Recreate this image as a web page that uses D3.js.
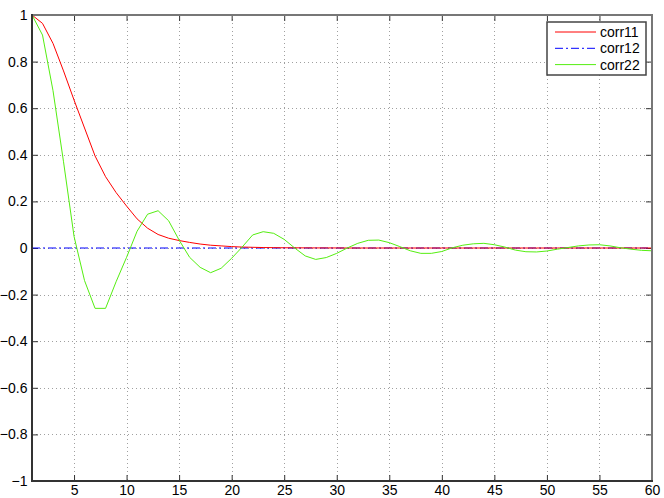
<!DOCTYPE html>
<html>
<head>
<meta charset="utf-8">
<script src="https://cdn.jsdelivr.net/npm/d3@7"></script>
<style>
  html, body { margin: 0; padding: 0; background: #fff; }
  svg { display: block; }
  text { font-family: "Liberation Sans", Arial, Helvetica, sans-serif; font-size: 14px; fill: #000; }
</style>
</head>
<body>
<svg id="chart" width="664" height="498"></svg>
<script>
// ---- data ----
const lags = d3.range(1, 61);
const corr11 = [1, 0.964, 0.878, 0.76, 0.635, 0.515, 0.395, 0.306, 0.238, 0.18,
  0.125, 0.085, 0.058, 0.042, 0.032, 0.024, 0.017, 0.012, 0.009, 0.006,
  0.004, 0.003, 0.002, 0.0015, 0.001, 0.0008, 0.0006, 0.0004, 0.0003, 0.0002,
  0, 0, 0, 0, 0, 0, 0, 0, 0, 0, 0, 0, 0, 0, 0, 0, 0, 0, 0, 0,
  0, 0, 0, 0, 0, 0, 0, 0, 0, 0];
const corr12 = [0, 0, 0, 0, 0, 0, 0, 0, 0, 0, 0, 0, 0, 0, 0, 0, 0, 0, 0, 0,
  0, 0, 0, 0, 0, 0, 0, 0, 0, 0, 0, 0, 0, 0, 0, 0, 0, 0, 0, 0,
  0, 0, 0, 0, 0, 0, 0, 0, 0, 0, 0, 0, 0, 0, 0, 0, 0, 0, 0, 0];
const corr22 = [1, 0.914, 0.675, 0.37, 0.05, -0.14, -0.259, -0.259, -0.145, -0.04,
  0.072, 0.145, 0.16, 0.117, 0.034, -0.04, -0.083, -0.106, -0.087, -0.044,
  0.004, 0.056, 0.07, 0.063, 0.037, 0.0, -0.034, -0.049, -0.041, -0.023,
  0.0, 0.02, 0.033, 0.034, 0.023, 0.006, -0.012, -0.023, -0.023, -0.015,
  0.001, 0.012, 0.018, 0.02, 0.014, 0.004, -0.009, -0.016, -0.017, -0.013,
  -0.005, 0.002, 0.009, 0.013, 0.014, 0.009, 0.001, -0.005, -0.01, -0.012];
const xTicks = [5, 10, 15, 20, 25, 30, 35, 40, 45, 50, 55, 60];
const yTicks = [-1, -0.8, -0.6, -0.4, -0.2, 0, 0.2, 0.4, 0.6, 0.8, 1];
const seriesNames = ["corr11", "corr12", "corr22"];

// ---- layout ----
const L = 32, R = 652, T = 15, B = 481;
const svg = d3.select("#chart");
const x = d3.scaleLinear().domain([1, 60]).range([L, R]);
const y = d3.scaleLinear().domain([-1, 1]).range([B, T]);

const fmtY = v => (v < 0 ? "\u2212" : "") + d3.format("")(Math.abs(v));

// grid
const grid = svg.append("g").attr("stroke", "#a0a0a0").attr("stroke-width", 1)
  .attr("stroke-dasharray", "1,3").attr("fill", "none");
xTicks.filter(v => v < 60).forEach(v => {
  grid.append("line").attr("x1", Math.round(x(v)) + 0.5).attr("x2", Math.round(x(v)) + 0.5)
    .attr("y1", T).attr("y2", B);
});
yTicks.filter(v => v > -1 && v < 1).forEach(v => {
  grid.append("line").attr("y1", Math.round(y(v)) + 0.5).attr("y2", Math.round(y(v)) + 0.5)
    .attr("x1", L).attr("x2", R);
});

// axes with inward ticks
const tickLen = 6;
const axB = svg.append("g").attr("transform", `translate(0,${B})`)
  .call(d3.axisBottom(x).tickValues(xTicks).tickSize(-tickLen).tickPadding(4.5).tickFormat(d3.format("d")));
axB.select(".domain").remove();
axB.selectAll("text").attr("font-size", 14).attr("font-family", "Liberation Sans, Arial, sans-serif");
const axL = svg.append("g").attr("transform", `translate(${L},0)`)
  .call(d3.axisLeft(y).tickValues(yTicks).tickSize(-tickLen).tickPadding(4.5).tickFormat(fmtY));
axL.select(".domain").remove();
axL.selectAll("text").attr("font-size", 13.5).attr("font-family", "Liberation Sans, Arial, sans-serif");
const axT = svg.append("g").attr("transform", `translate(0,${T})`)
  .call(d3.axisTop(x).tickValues(xTicks).tickSize(-tickLen).tickFormat(""));
axT.select(".domain").remove();
const axR = svg.append("g").attr("transform", `translate(${R},0)`)
  .call(d3.axisRight(y).tickValues(yTicks).tickSize(-tickLen).tickFormat(""));
axR.select(".domain").remove();
svg.selectAll(".tick line").attr("stroke", "#333");

// lines
const clip = svg.append("clipPath").attr("id", "clip").append("rect")
  .attr("x", L).attr("y", T - 1).attr("width", R - L).attr("height", B - T + 2);
const line = d3.line().x((d, i) => x(lags[i])).y(d => y(d));
const plot = svg.append("g").attr("clip-path", "url(#clip)").attr("fill", "none");
plot.append("path").datum(corr12).attr("d", line).attr("stroke", "#0000ff").attr("stroke-width", 1)
  .attr("stroke-dasharray", "8,3,2,3");
plot.append("path").datum(corr11).attr("d", line).attr("stroke", "#ff0000").attr("stroke-width", 1);
plot.append("path").datum(corr22).attr("d", line).attr("stroke", "#55ee11").attr("stroke-width", 1);

// frame
svg.append("line").attr("x1", L).attr("x2", R + 1).attr("y1", T).attr("y2", T).attr("stroke", "#777").attr("stroke-width", 2);
svg.append("line").attr("x1", R).attr("x2", R).attr("y1", T).attr("y2", B).attr("stroke", "#777").attr("stroke-width", 2);
svg.append("line").attr("x1", L).attr("x2", R + 1).attr("y1", B).attr("y2", B).attr("stroke", "#333").attr("stroke-width", 2);
svg.append("line").attr("x1", L).attr("x2", L).attr("y1", T - 1).attr("y2", B + 1).attr("stroke", "#333").attr("stroke-width", 2);

// legend
const lg = svg.append("g");
lg.append("rect").attr("x", 547).attr("y", 22).attr("width", 99).attr("height", 53)
  .attr("fill", "#fff").attr("stroke", "#444").attr("stroke-width", 1.5);
const styles = [
  { c: "#ff0000", d: null },
  { c: "#0000ff", d: "8,3,2,3" },
  { c: "#55ee11", d: null }
];
seriesNames.forEach((n, i) => {
  const yy = 32 + i * 16.3;
  const l = lg.append("line").attr("x1", 555).attr("x2", 596).attr("y1", yy).attr("y2", yy)
    .attr("stroke", styles[i].c).attr("stroke-width", 1);
  if (styles[i].d) l.attr("stroke-dasharray", styles[i].d);
  lg.append("text").attr("x", 600).attr("y", yy).attr("dy", "0.35em").text(n);
});
</script>
</body>
</html>
